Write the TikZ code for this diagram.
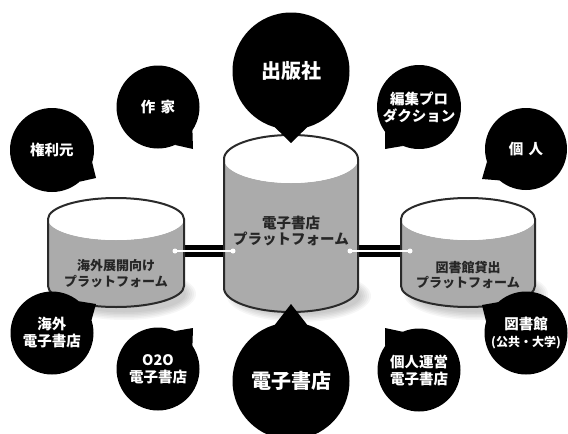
\documentclass[tikz,border=0pt]{standalone}
\usepackage{fontspec}
\newfontfamily\jp{Noto Sans CJK JP}[BoldFont={Noto Sans CJK JP Black}]
\usetikzlibrary{calc}
\definecolor{cylgray}{HTML}{ABABAB}
\definecolor{cyledge}{HTML}{2A2A2A}
\newcommand\drawcyl[5]{%
  % #1 cx, #2 rx, #3 top centre y, #4 bottom centre y, #5 ry
  \fill[cylgray] (#1-#2,#3) -- (#1-#2,#4) arc[start angle=180,end angle=0,x radius=#2,y radius=#5]
     -- (#1+#2,#3) arc[start angle=0,end angle=180,x radius=#2,y radius=#5] -- cycle;
  \fill[white] (#1,#3) ellipse[x radius=#2,y radius=#5];
  \draw[cyledge,line width=2pt,line join=round] (#1-#2,#4) -- (#1-#2,#3)
     arc[start angle=180,end angle=360,x radius=#2,y radius=#5]
     -- (#1+#2,#4) arc[start angle=0,end angle=180,x radius=#2,y radius=#5];
}
\newcommand\cylshadow[4]{%
  \foreach \k in {0,...,5}{
    \fill[black,opacity=0.035] (#1+8,#2+4) ellipse[x radius=#3-\k*2,y radius=#4-\k*1.5];
  }
}
\newcommand\bub[6]{%
  % #1 name, #2 centre, #3 diameter, #4 text, #5 tail angle, #6 tip
  \node[bubble,minimum size=#3] (#1) at (#2) {#4};
  \coordinate (#1t) at (#6);
  \pgfmathsetmacro\bubA{#5+16}
  \pgfmathsetmacro\bubB{#5-16}
  \fill[black] (#1.\bubA) -- (#1t) -- (#1.\bubB) -- cycle;
}
\begin{document}
\begin{tikzpicture}[x=1pt,y=-1pt,
  bubble/.style={circle,fill=black,inner sep=0pt,outer sep=0pt,text=white,align=center,
    font=\jp\bfseries\fontsize{14.5}{17}\selectfont},
  cyltext/.style={text=black!85,align=center,inner sep=0pt},
  conbar/.style={line width=12pt,black},
  conwire/.style={line width=2.2pt,white},
  condot/.style={circle,fill=white,inner sep=0pt,minimum size=5pt}
]
\useasboundingbox (0,0) rectangle (568,434);
\fill[white] (0,0) rectangle (568,434);

% shadows
\cylshadow{116}{290}{72}{26}
\cylshadow{291}{292}{72}{26}
\cylshadow{468}{290}{72}{26}

% connectors (under the cylinders)
\coordinate (Lw) at (175,251);
\coordinate (Lr) at (184,251);
\coordinate (Cl) at (225,251);
\coordinate (Cw1) at (233,251);
\coordinate (Cw2) at (350,251);
\coordinate (Cr) at (357,251);
\coordinate (Rl) at (402,251);
\coordinate (Rw) at (410,251);
\draw[conbar] (Lr) -- (Cl);
\draw[conbar] (Cr) -- (Rl);

% cylinders
\drawcyl{116}{68}{219}{286}{21}
\drawcyl{291}{67}{159}{288}{24}
\drawcyl{468}{67}{219}{286}{21}

\draw[conwire] (Lw) -- (Cw1);
\draw[conwire] (Cw2) -- (Rw);
\node[condot] (dL) at (Lw) {};
\node[condot] (dC1) at (Cw1) {};
\node[condot] (dC2) at (Cw2) {};
\node[condot] (dR) at (Rw) {};

% cylinder labels
\node[cyltext,font=\jp\bfseries\fontsize{13}{16}\selectfont] (pL) at (116,274) {海外展開向け\\プラットフォーム};
\node[cyltext,font=\jp\bfseries\fontsize{14.5}{15.5}\selectfont] (pC) at (291,231) {電子書店\\プラットフォーム};
\node[cyltext,font=\jp\bfseries\fontsize{13}{14.5}\selectfont] (pR) at (468,275) {図書館貸出\\プラットフォーム};

% bubbles
\bub{kenri}{52,150}{84}{権利元}{-33}{96,178}
\bub{sakka}{158,107}{83}{作\hspace{0.35em}家}{-50}{193,149}
\bub{shuppan}{291,71}{117}{\fontsize{20}{22}\selectfont 出版社}{-90}{291,143}
\bub{henshu}{419,107}{84}{編集プロ\\ダクション}{-128}{385,149}
\bub{kojin}{526,149}{82}{個\hspace{0.35em}人}{-146}{482,179}
\bub{kaigai}{52,333}{83}{海外\\電子書店}{34}{96,304}
\bub{oto}{158,369}{83}{O2O\\電子書店}{50}{193,328}
\bub{denshi}{291,381}{117}{\fontsize{20}{22}\selectfont 電子書店}{90}{291,304}
\bub{kojinun}{419,370}{83}{個人運営\\電子書店}{129}{385,328}
\bub{tosho}{526,333}{83}{図書館\\{\fontsize{12}{14}\selectfont (公共・大学)}}{148}{482,305}
\end{tikzpicture}
\end{document}
